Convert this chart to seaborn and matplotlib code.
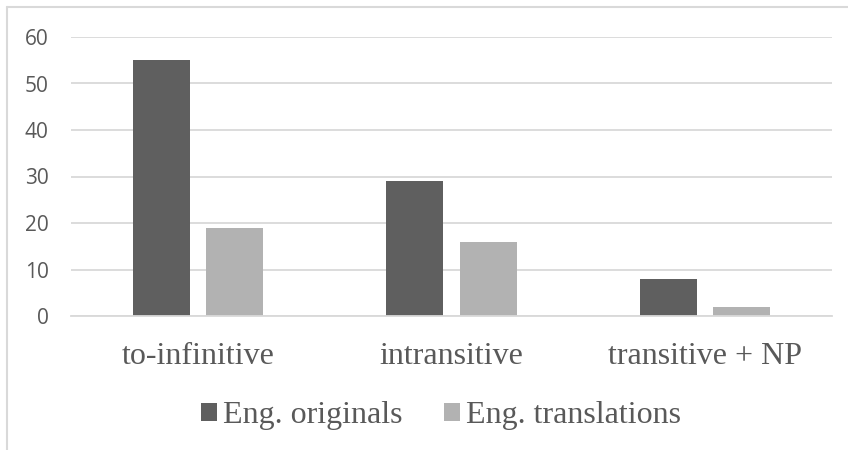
import matplotlib
matplotlib.use("Agg")
import matplotlib.pyplot as plt
import seaborn as sns
import pandas as pd
from matplotlib.lines import Line2D
from matplotlib.patches import Patch

categories = ["to-infinitive", "intransitive", "transitive + NP"]
series_names = ["Eng. originals", "Eng. translations"]
originals = [55, 29, 8]
translations = [19, 16, 2]
yticks = [0, 10, 20, 30, 40, 50, 60]

df = pd.DataFrame({
    "category": categories * 2,
    "series": [series_names[0]] * 3 + [series_names[1]] * 3,
    "value": originals + translations,
})

sns.set_style("white")
colors = ["#5f5f5f", "#b2b2b2"]
text_color = "#595959"

fig = plt.figure(figsize=(8.48, 4.5), dpi=100)
ax = fig.add_axes([71 / 848, 1 - 316 / 450, (832 - 71) / 848, (316 - 37) / 450])

sns.barplot(data=df, x="category", y="value", hue="series", order=categories,
            hue_order=series_names, palette=colors, width=0.576, gap=0.22,
            saturation=1, ax=ax, legend=False, linewidth=0)

ax.set_ylim(0, 60)
ax.set_xlim(-0.5, 2.5)
ax.set_yticks(yticks)
ax.set_yticklabels([str(t) for t in yticks], fontfamily="Open Sans",
                   fontsize=15, color=text_color)
ax.set_xticks(range(3))
ax.set_xticklabels(categories, fontfamily="Liberation Serif", fontsize=23,
                   color=text_color)
ax.tick_params(axis="y", length=0, pad=16)
ax.tick_params(axis="x", length=0, pad=19)
ax.set_xlabel("")
ax.set_ylabel("")
ax.grid(axis="y", color="#d9d9d9", linewidth=1.3)
ax.set_axisbelow(True)
for s in ["top", "right", "left"]:
    ax.spines[s].set_visible(False)
ax.spines["bottom"].set_color("#d9d9d9")
ax.spines["bottom"].set_linewidth(1.3)

handles = [Patch(facecolor=c, edgecolor="none") for c in colors]
leg = fig.legend(handles, series_names, loc="center", bbox_to_anchor=(441 / 848, 1 - 416 / 450),
                 ncol=2, frameon=False, prop={"family": "Liberation Serif", "size": 23},
                 handlelength=0.5, handleheight=0.5, handletextpad=0.2, columnspacing=1.3)
for t in leg.get_texts():
    t.set_color(text_color)

# chart-area border (top and left edges visible)
fig.add_artist(Line2D([7 / 848, 1.0], [1 - 7 / 450, 1 - 7 / 450], transform=fig.transFigure,
                      color="#d9d9d9", linewidth=1.5))
fig.add_artist(Line2D([7 / 848, 7 / 848], [0, 1 - 7 / 450], transform=fig.transFigure,
                      color="#d9d9d9", linewidth=1.5))

fig.savefig("out.png", dpi=100)
